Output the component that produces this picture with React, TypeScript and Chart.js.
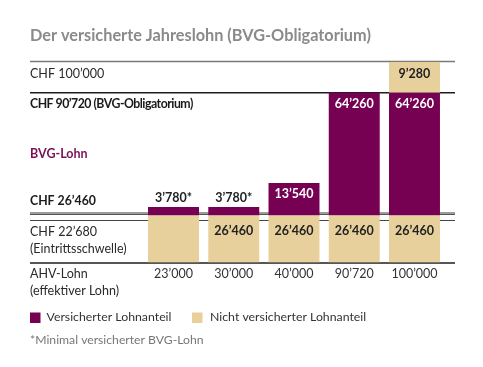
import React, { useEffect, useRef } from 'react';
import { Chart, registerables, LinearScale } from 'chart.js';

// ---------- data ----------
const categories = ['23’000', '30’000', '40’000', '90’720', '100’000'];
const notInsuredBase = [26460, 26460, 26460, 26460, 26460];
const notInsuredBaseLabels = ['', '26’460', '26’460', '26’460', '26’460'];
const insured = [3780, 3780, 13540, 64260, 64260];
const insuredLabels = ['3’780*', '3’780*', '13’540', '64’260', '64’260'];
const notInsuredTop = [null, null, null, null, 9280];
const notInsuredTopLabels = ['', '', '', '', '9’280'];

// schematic (non-linear) value axis: value breakpoints and their share of the axis
const scaleBreakValues = [0, 22680, 26460, 30240, 40000, 90720, 100000];
const scaleBreakFractions = [0, 0.212, 0.2344, 0.2768, 0.3965, 0.8469, 1];

const title = 'Der versicherte Jahreslohn (BVG-Obligatorium)';
const legendLabels = ['Versicherter Lohnanteil', 'Nicht versicherter Lohnanteil'];
const footnote = '*Minimal versicherter BVG-Lohn';

const PURPLE = '#760052';
const BEIGE = '#E8D09C';
const FONT = 'Lato, "Open Sans", sans-serif';

function toFraction(v: number): number {
  const xs = scaleBreakValues, fs = scaleBreakFractions;
  if (v <= xs[0]) return fs[0] + (v - xs[0]) * (fs[1] - fs[0]) / (xs[1] - xs[0]);
  for (let i = 1; i < xs.length; i++) {
    if (v <= xs[i]) return fs[i - 1] + (v - xs[i - 1]) * (fs[i] - fs[i - 1]) / (xs[i] - xs[i - 1]);
  }
  const n = xs.length - 1;
  return fs[n] + (v - xs[n]) * (fs[n] - fs[n - 1]) / (xs[n] - xs[n - 1]);
}
function fromFraction(f: number): number {
  const xs = scaleBreakValues, fs = scaleBreakFractions;
  for (let i = 1; i < fs.length; i++) {
    if (f <= fs[i]) return xs[i - 1] + (f - fs[i - 1]) * (xs[i] - xs[i - 1]) / (fs[i] - fs[i - 1]);
  }
  const n = xs.length - 1;
  return xs[n] + (f - fs[n]) * (xs[n] - xs[n - 1]) / (fs[n] - fs[n - 1]);
}

class SegmentedScale extends LinearScale {
  static id = 'segmented';
  getPixelForValue(value: any) {
    if (value === null || value === undefined || isNaN(value)) return NaN;
    return this.getPixelForDecimal(toFraction(value));
  }
  getValueForPixel(pixel: number) {
    return fromFraction(this.getDecimalForPixel(pixel));
  }
}

Chart.register(...registerables, SegmentedScale as any);

// horizontal reference lines (value on the axis)
const refLines = [
  { value: 100000, color: '#7a7a7a', width: 1.3, dy: -0.5 },
  { value: 90720, color: '#1e1e1e', width: 1.5, dy: 0 },
  { value: 26460, color: '#3a3a3a', width: 1.1, dy: -2.5 },
  { value: 26460, color: '#555555', width: 1, dy: -1 },
  { value: 22680, color: '#444444', width: 1, dy: 0.5 },
  { value: 0, color: '#1e1e1e', width: 1.5, dy: 0.5 },
];

const rowLabels = [
  { value: 100000, dy: 11.5, text: 'CHF 100’000', bold: false, size: 12.5, spacing: 0, color: '#2a2a2a' },
  { value: 90720, dy: 11.5, text: 'CHF 90’720 (BVG-Obligatorium)', bold: true, size: 12.3, spacing: -0.5, color: '#1a1a1a' },
  { value: 90720, dy: 61, text: 'BVG-Lohn', bold: true, size: 12.5, spacing: 0, color: '#7a1057' },
  { value: 26460, dy: -14.5, text: 'CHF 26’460', bold: true, size: 12.3, spacing: 0, color: '#1a1a1a' },
  { value: 22680, dy: 11.5, text: 'CHF 22’680', bold: false, size: 12.5, spacing: 0, color: '#2a2a2a' },
  { value: 22680, dy: 28.5, text: '(Eintrittsschwelle)', bold: false, size: 12.5, spacing: 0, color: '#2a2a2a' },
  { value: 0, dy: 11, text: 'AHV-Lohn', bold: false, size: 12.5, spacing: 0, color: '#2a2a2a' },
  { value: 0, dy: 28.5, text: '(effektiver Lohn)', bold: false, size: 12.5, spacing: 0, color: '#2a2a2a' },
];

const decorPlugin = {
  id: 'decor',
  beforeDatasetsDraw(chart: any) {
    const ctx = chart.ctx;
    const y = chart.scales.y;
    ctx.save();
    refLines.forEach((l) => {
      const py = y.getPixelForValue(l.value) + l.dy;
      ctx.beginPath();
      ctx.strokeStyle = l.color;
      ctx.lineWidth = l.width;
      ctx.moveTo(30, py);
      ctx.lineTo(455, py);
      ctx.stroke();
    });
    ctx.restore();
  },
  afterDatasetsDraw(chart: any) {
    const ctx = chart.ctx;
    ctx.save();
    ctx.textAlign = 'center';
    ctx.textBaseline = 'middle';
    chart.data.datasets.forEach((ds: any, di: number) => {
      const meta = chart.getDatasetMeta(di);
      meta.data.forEach((bar: any, i: number) => {
        const text = ds.valueLabels[i];
        if (!text) return;
        const p = bar.getProps(['x', 'y', 'base'], true);
        const h = Math.abs(p.base - p.y);
        ctx.font = `bold 12.5px ${FONT}`;
        if (h < 20) {
          ctx.fillStyle = '#222';
          ctx.fillText(text, p.x, p.y - 9);
        } else {
          ctx.fillStyle = ds.labelColor;
          ctx.fillText(text, p.x, p.y + ds.labelOffset);
        }
      });
    });
    ctx.restore();
  },
  afterDraw(chart: any) {
    const ctx = chart.ctx;
    const y = chart.scales.y;
    const x = chart.scales.x;
    ctx.save();
    ctx.textBaseline = 'middle';
    // title
    ctx.textAlign = 'left';
    ctx.fillStyle = '#8a8a8a';
    ctx.font = `bold 16.3px ${FONT}`;
    ctx.fillText(title, 30, 35.5);
    // row labels
    rowLabels.forEach((r) => {
      ctx.font = `${r.bold ? 'bold ' : ''}${r.size}px ${FONT}`;
      (ctx as any).letterSpacing = `${r.spacing}px`;
      ctx.fillStyle = r.color;
      ctx.fillText(r.text, 30, y.getPixelForValue(r.value) + r.dy);
    });
    (ctx as any).letterSpacing = '0px';
    // category labels
    ctx.textAlign = 'center';
    ctx.font = `12.5px ${FONT}`;
    ctx.fillStyle = '#333';
    categories.forEach((c, i) => {
      ctx.fillText(c, x.getPixelForValue(i), y.getPixelForValue(0) + 11);
    });
    // legend
    ctx.textAlign = 'left';
    const ly = 317.5;
    ctx.fillStyle = PURPLE;
    ctx.fillRect(30, ly - 5, 10.5, 10.5);
    ctx.fillStyle = '#333';
    ctx.font = `12.3px ${FONT}`;
    ctx.fillText(legendLabels[0], 46.5, ly);
    ctx.fillStyle = BEIGE;
    ctx.fillRect(192, ly - 5, 10.5, 10.5);
    ctx.fillStyle = '#333';
    ctx.fillText(legendLabels[1], 210, ly);
    // footnote
    ctx.fillStyle = '#777';
    ctx.font = `12.2px ${FONT}`;
    ctx.fillText(footnote, 30, 340);
    ctx.restore();
  },
};

export default function App() {
  const ref = useRef<HTMLCanvasElement | null>(null);
  useEffect(() => {
    if (!ref.current) return;
    const chart = new Chart(ref.current, {
      type: 'bar',
      data: {
        labels: categories,
        datasets: [
          { label: legendLabels[1], data: notInsuredBase, backgroundColor: BEIGE, valueLabels: notInsuredBaseLabels, labelColor: '#222', labelOffset: 15.5 } as any,
          { label: legendLabels[0], data: insured, backgroundColor: PURPLE, valueLabels: insuredLabels, labelColor: '#ffffff', labelOffset: 11 } as any,
          { label: legendLabels[1], data: notInsuredTop, backgroundColor: BEIGE, valueLabels: notInsuredTopLabels, labelColor: '#222', labelOffset: 12 } as any,
        ],
      },
      options: {
        animation: false,
        responsive: false,
        devicePixelRatio: 1,
        layout: { padding: { top: 62, bottom: 104.5, left: 143.4, right: 38.4 } },
        datasets: { bar: { barPercentage: 0.846, categoryPercentage: 1, borderWidth: 0 } },
        scales: {
          x: { display: false, stacked: true },
          y: { type: 'segmented' as any, display: false, stacked: true, min: 0, max: 100000 },
        },
        plugins: { legend: { display: false }, tooltip: { enabled: false }, title: { display: false } },
      },
      plugins: [decorPlugin],
    });
    return () => chart.destroy();
  }, []);
  return (
    <div style={{ position: 'fixed', left: 0, top: 0, width: 483, height: 367, background: '#fff' }}>
      <canvas ref={ref} width={483} height={367} style={{ display: 'block' }} />
    </div>
  );
}
